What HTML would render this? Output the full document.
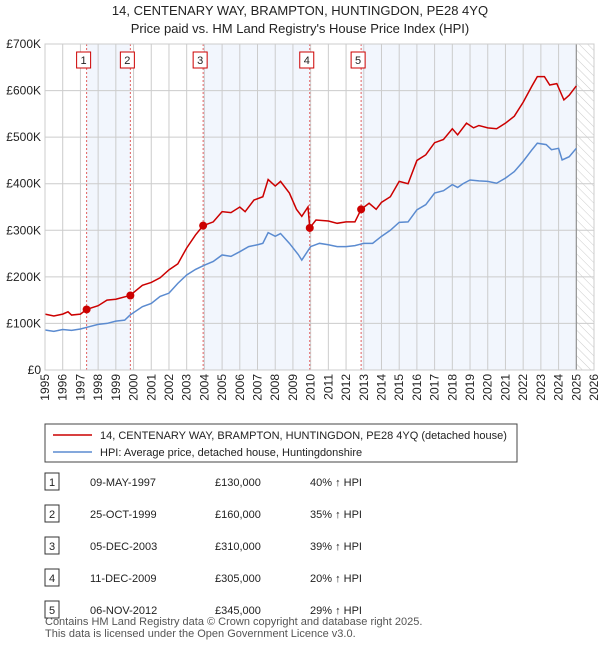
<!DOCTYPE html>
<html><head><meta charset="utf-8"><style>
body{margin:0;background:#fff;font-family:"Liberation Sans","DejaVu Sans",sans-serif;}
</style></head><body>
<svg width="600" height="650" xmlns="http://www.w3.org/2000/svg" font-family="Liberation Sans, DejaVu Sans, sans-serif">
<text x="300" y="15" text-anchor="middle" font-size="13" fill="#222">14, CENTENARY WAY, BRAMPTON, HUNTINGDON, PE28 4YQ</text>
<text x="300" y="33" text-anchor="middle" font-size="13" fill="#222">Price paid vs. HM Land Registry's House Price Index (HPI)</text>
<g id="plot"></g>
<g id="legend">
<rect x="45" y="424" width="472" height="38" fill="#fff" stroke="#444"/>
<line x1="53" y1="435" x2="92" y2="435" stroke="#cc0000" stroke-width="1.5"/>
<text x="100" y="439" font-size="11" fill="#222">14, CENTENARY WAY, BRAMPTON, HUNTINGDON, PE28 4YQ (detached house)</text>
<line x1="53" y1="452" x2="92" y2="452" stroke="#5b8bd0" stroke-width="1.5"/>
<text x="100" y="456" font-size="11" fill="#222">HPI: Average price, detached house, Huntingdonshire</text>
</g>
<g id="table"></g>
<text x="45" y="625" font-size="11" fill="#555">Contains HM Land Registry data © Crown copyright and database right 2025.</text>
<text x="45" y="637" font-size="11" fill="#555">This data is licensed under the Open Government Licence v3.0.</text>
</svg>
<script>
const hpiYears=[1995,1995.5,1996,1996.5,1997,1997.5,1998,1998.5,1999,1999.5,1999.8,2000.5,2001,2001.5,2002,2002.5,2003,2003.5,2004,2004.5,2005,2005.5,2006,2006.5,2007,2007.3,2007.6,2008,2008.3,2008.8,2009.3,2009.5,2010,2010.5,2011,2011.5,2012,2012.5,2013,2013.5,2014,2014.5,2015,2015.5,2016,2016.5,2017,2017.5,2018,2018.3,2018.6,2019,2019.5,2020,2020.5,2021,2021.5,2022,2022.5,2022.8,2023.3,2023.6,2024,2024.2,2024.6,2025];
const hpiValues=[86,83,87,85,88,93,98,100,105,107,118,136,143,158,165,186,204,216,225,233,247,244,254,265,269,272,295,287,293,272,248,236,265,272,269,265,265,267,272,272,287,300,317,318,344,355,380,385,398,392,400,408,406,405,401,412,426,448,473,487,484,473,476,451,458,476];
const ppYears=[1995,1995.5,1996,1996.3,1996.5,1997,1997.35,1998,1998.5,1999,1999.8,2000.5,2001,2001.5,2002,2002.5,2003,2003.5,2003.93,2004.5,2005,2005.5,2006,2006.3,2006.8,2007.3,2007.6,2008,2008.3,2008.8,2009.2,2009.5,2009.85,2009.95,2010.3,2011,2011.5,2012,2012.5,2012.85,2013.3,2013.7,2014,2014.5,2015,2015.5,2016,2016.5,2017,2017.5,2018,2018.3,2018.8,2019.2,2019.5,2020,2020.5,2021,2021.5,2022,2022.5,2022.8,2023.2,2023.5,2023.9,2024.3,2024.6,2025];
const ppValues=[120,116,120,125,118,120,130,138,150,152,160,182,188,198,215,228,262,290,310,318,340,338,350,340,365,372,409,395,405,380,345,330,350,305,322,320,315,318,318,345,358,345,360,372,405,400,450,462,488,495,518,505,530,520,525,520,518,530,545,575,610,630,630,612,615,580,590,610];
const saleLabels=["1","2","3","4","5"];
const saleYears=[1997.35,1999.82,2003.93,2009.95,2012.85];
const salePrices=[130,160,310,305,345];
const saleDates=["09-MAY-1997","25-OCT-1999","05-DEC-2003","11-DEC-2009","06-NOV-2012"];
const salePriceText=["£130,000","£160,000","£310,000","£305,000","£345,000"];
const saleHpiText=["40% ↑ HPI","35% ↑ HPI","39% ↑ HPI","20% ↑ HPI","29% ↑ HPI"];
const yTicks=[0,100,200,300,400,500,600,700];
const yTickLabels=["£0","£100K","£200K","£300K","£400K","£500K","£600K","£700K"];
const xTicks=[1995,1996,1997,1998,1999,2000,2001,2002,2003,2004,2005,2006,2007,2008,2009,2010,2011,2012,2013,2014,2015,2016,2017,2018,2019,2020,2021,2022,2023,2024,2025,2026];

const NS="http://www.w3.org/2000/svg";
const L=45,R=594,T=44,B=370;
const x=y=>L+(y-1995)/(2026-1995)*(R-L);
const yv=v=>B-v/700*(B-T);
const plot=document.getElementById('plot');
function mk(tag,attrs,parent){const e=document.createElementNS(NS,tag);for(const k in attrs)e.setAttribute(k,attrs[k]);(parent||plot).appendChild(e);return e;}
const shadeStarts=[saleYears[0],saleYears[2],saleYears[4]];
const shadeEnds=[saleYears[1],saleYears[3],2025.0];
for(let i=0;i<shadeStarts.length;i++){
 const r=mk('rect',{x:x(shadeStarts[i]),y:T,width:x(shadeEnds[i])-x(shadeStarts[i]),height:B-T,fill:'#eef3fc',opacity:0.75});
 
 
}
const defs=mk('defs',{});
const pat=mk('pattern',{id:'hatch',width:6,height:6,patternUnits:'userSpaceOnUse',patternTransform:'rotate(-45)'},defs);
mk('line',{x1:0,y1:0,x2:0,y2:6,stroke:'#ccc','stroke-width':1},pat);
const h=mk('rect',{x:x(2025.0),y:T,width:R-x(2025.0),height:B-T,fill:'url(#hatch)'});


xTicks.forEach(t=>{
 const g=mk('line',{x1:x(t),y1:T,x2:x(t),y2:B,stroke:'#ccc','stroke-width':1});
 
 
 const lb=mk('text',{transform:`translate(${x(t)+4},${B+4}) rotate(-90)`,'text-anchor':'end','font-size':12,fill:'#222'});
 lb.textContent=t;
 
 
});
yTicks.forEach((t,i)=>{
 const g=mk('line',{x1:L,y1:yv(t),x2:R,y2:yv(t),stroke:'#ccc','stroke-width':1});
 
 
 const lb=mk('text',{x:L-4,y:yv(t)+4,'text-anchor':'end','font-size':12,fill:'#222'});
 lb.textContent=yTickLabels[i];
 
 
});
const ln=mk('line',{x1:x(2025.0),y1:T,x2:x(2025.0),y2:B,stroke:'#888','stroke-width':1});


saleYears.forEach((s,i)=>{
 const v=mk('line',{x1:x(s),y1:T,x2:x(s),y2:B,stroke:'#e06060','stroke-width':1,'stroke-dasharray':'2,2'});
 
 
 const b=mk('rect',{x:x(s)-10,y:52,width:14,height:16,fill:'#fff',stroke:'#cc0000'});
 
 
 const t=mk('text',{x:x(s)-3,y:64,'text-anchor':'middle','font-size':11,fill:'#222'});
 t.textContent=saleLabels[i];
 
 
});
const hp=mk('polyline',{points:hpiYears.map((yy,i)=>x(yy)+','+yv(hpiValues[i])).join(' '),fill:'none',stroke:'#5b8bd0','stroke-width':1.5});


const pp=mk('polyline',{points:ppYears.map((yy,i)=>x(yy)+','+yv(ppValues[i])).join(' '),fill:'none',stroke:'#cc0000','stroke-width':1.5});


saleYears.forEach((s,i)=>{
 const c=mk('circle',{cx:x(s),cy:yv(salePrices[i]),r:4,fill:'#cc0000'});
 
 
});
const fr=mk('rect',{x:L,y:T,width:R-L,height:B-T,fill:'none',stroke:'#ccc'});


const tb=document.getElementById('table');
saleLabels.forEach((lab,i)=>{
 const yy=482+i*32;
 const b=mk('rect',{x:45,y:yy-9,width:14,height:17,fill:'#fff',stroke:'#333'},tb);
 
 
 const cells=[[52,lab,'middle'],[90,saleDates[i],'start'],[215,salePriceText[i],'start'],[310,saleHpiText[i],'start']];
 cells.forEach(c=>{
  const t=mk('text',{x:c[0],y:yy+4,'text-anchor':c[2],'font-size':11,fill:'#222'},tb);
  t.textContent=c[1];
  
  
 });
});
</script>
</body></html>
